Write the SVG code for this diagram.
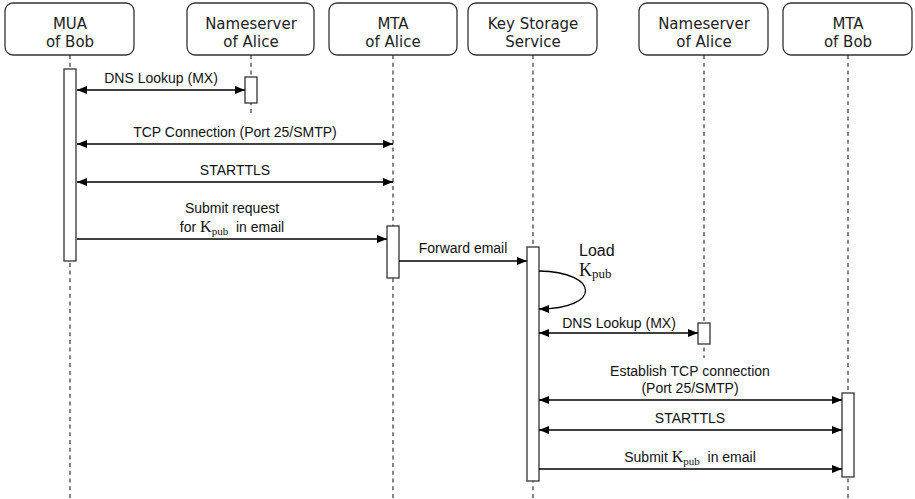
<svg xmlns="http://www.w3.org/2000/svg" width="915" height="499" viewBox="0 0 915 499">
<style>
.box{fill:#fff;stroke:#333;stroke-width:1.3}
.nt{font-family:"DejaVu Sans",Verdana,sans-serif;font-size:15px;fill:#222;text-anchor:middle}
.life{stroke:#444;stroke-width:1.3;stroke-dasharray:4 3.7;fill:none}
.act{fill:#fff;stroke:#333;stroke-width:1.3}
.msg{stroke:#000;stroke-width:1.3;fill:none}
.lb{font-family:"Liberation Sans",Arial,sans-serif;font-size:14px;fill:#111;text-anchor:middle}
.k{font-family:"Liberation Serif","Times New Roman",serif}
</style>
<defs>
<marker id="ah" viewBox="0 0 10 8" refX="10" refY="4" markerWidth="10" markerHeight="8" markerUnits="userSpaceOnUse" orient="auto-start-reverse">
<path d="M0,0 L10,4 L0,8 z" fill="#000"/>
</marker>
</defs>
<g id="lifelines">
<line class="life" x1="70" y1="55" x2="70" y2="499"/>
<line class="life" x1="251" y1="55" x2="251" y2="113"/>
<line class="life" x1="393" y1="55" x2="393" y2="499"/>
<line class="life" x1="533" y1="55" x2="533" y2="499"/>
<line class="life" x1="704" y1="55" x2="704" y2="358"/>
<line class="life" x1="848" y1="55" x2="848" y2="499"/>
</g>
<g id="mua">
<rect class="box" x="5" y="3" width="129" height="52" rx="8"/>
<text class="nt" x="70" y="29">MUA</text>
<text class="nt" x="70" y="47">of Bob</text>
<rect class="act" x="64" y="69" width="12" height="192"/>
</g>
<g id="ns1">
<rect class="box" x="187" y="3" width="127" height="52" rx="8"/>
<text class="nt" x="251" y="29">Nameserver</text>
<text class="nt" x="251" y="47">of Alice</text>
<rect class="act" x="245" y="77" width="12" height="26"/>
</g>
<g id="mta-alice">
<rect class="box" x="329" y="3" width="128" height="52" rx="8"/>
<text class="nt" x="393" y="29">MTA</text>
<text class="nt" x="393" y="47">of Alice</text>
<rect class="act" x="387" y="226" width="12" height="52"/>
</g>
<g id="kss">
<rect class="box" x="468" y="3" width="129" height="52" rx="8"/>
<text class="nt" x="533" y="29">Key Storage</text>
<text class="nt" x="533" y="47">Service</text>
<rect class="act" x="527" y="247" width="12" height="234"/>
</g>
<g id="ns2">
<rect class="box" x="639" y="3" width="129" height="52" rx="8"/>
<text class="nt" x="704" y="29">Nameserver</text>
<text class="nt" x="704" y="47">of Alice</text>
<rect class="act" x="698" y="323" width="12" height="21"/>
</g>
<g id="mta-bob">
<rect class="box" x="783" y="3" width="129" height="52" rx="8"/>
<text class="nt" x="848" y="29">MTA</text>
<text class="nt" x="848" y="47">of Bob</text>
<rect class="act" x="842" y="393" width="12" height="84"/>
</g>
<g id="connectors">
<line class="msg" x1="77" y1="90" x2="245" y2="90" marker-start="url(#ah)" marker-end="url(#ah)"/>
<text class="lb" x="161" y="83">DNS Lookup (MX)</text>
<line class="msg" x1="77" y1="144" x2="393" y2="144" marker-start="url(#ah)" marker-end="url(#ah)"/>
<text class="lb" x="235" y="137">TCP Connection (Port 25/SMTP)</text>
<line class="msg" x1="77" y1="182" x2="393" y2="182" marker-start="url(#ah)" marker-end="url(#ah)"/>
<text class="lb" x="235" y="175">STARTTLS</text>
<line class="msg" x1="77" y1="239" x2="387" y2="239" marker-end="url(#ah)"/>
<text class="lb" x="232" y="213">Submit request</text>
<text class="lb" x="232" y="232" xml:space="preserve">for <tspan class="k" font-size="16">K</tspan><tspan class="k" font-size="11" dy="3">pub</tspan><tspan dy="-3">  in email</tspan></text>
<line class="msg" x1="399" y1="261" x2="527" y2="261" marker-end="url(#ah)"/>
<text class="lb" x="463" y="253">Forward email</text>
<path class="msg" d="M539,271 C600,272 602,309 539,309" marker-end="url(#ah)"/>
<text x="579" y="256" font-family="Liberation Sans,Arial,sans-serif" font-size="16" fill="#111">Load</text>
<text x="579" y="276" class="k" font-size="18" fill="#111">K<tspan font-size="13" dy="2">pub</tspan></text>
<line class="msg" x1="539" y1="333" x2="698" y2="333" marker-start="url(#ah)" marker-end="url(#ah)"/>
<text class="lb" x="619" y="328">DNS Lookup (MX)</text>
<line class="msg" x1="539" y1="400" x2="842" y2="400" marker-start="url(#ah)" marker-end="url(#ah)"/>
<text class="lb" x="690" y="376">Establish TCP connection</text>
<text class="lb" x="690" y="393">(Port 25/SMTP)</text>
<line class="msg" x1="539" y1="430" x2="842" y2="430" marker-start="url(#ah)" marker-end="url(#ah)"/>
<text class="lb" x="690" y="423">STARTTLS</text>
<line class="msg" x1="539" y1="469" x2="842" y2="469" marker-end="url(#ah)"/>
<text class="lb" x="690" y="462" xml:space="preserve">Submit <tspan class="k" font-size="16">K</tspan><tspan class="k" font-size="11" dy="3">pub</tspan><tspan dy="-3">  in email</tspan></text>
</g>
</svg>
